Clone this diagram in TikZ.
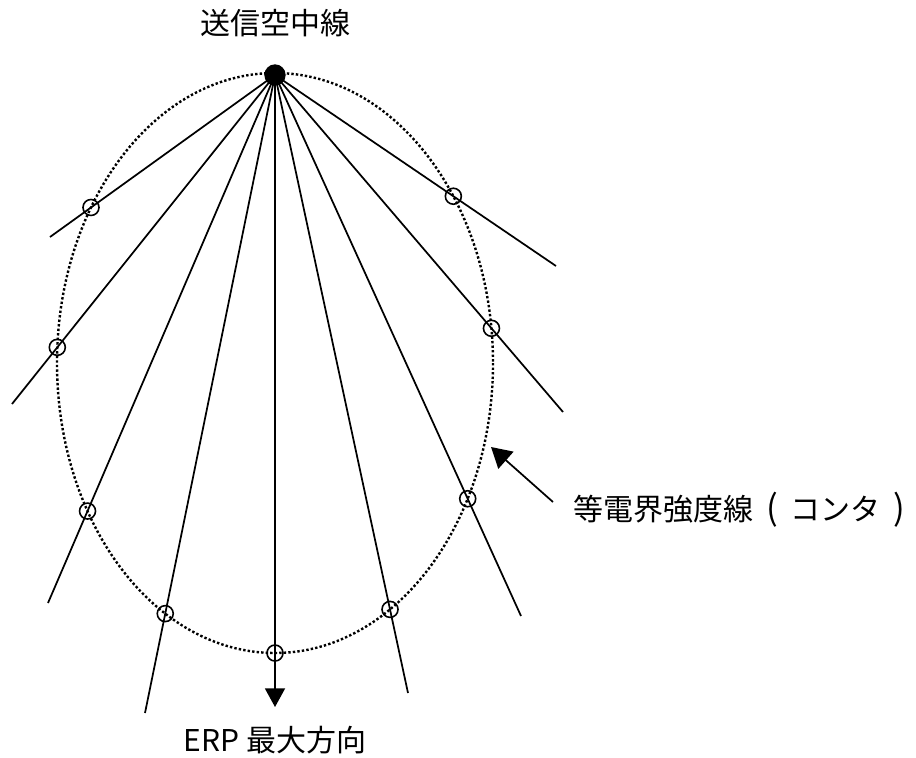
\documentclass[tikz,border=0pt]{standalone}
\usepackage{fontspec}
\newfontfamily\jp{Noto Sans CJK JP}
\usetikzlibrary{arrows.meta,intersections}
\newcommand{\cparen}[1]{\makebox[1.25em][c]{\fontsize{26}{26}\selectfont #1}}
\begin{document}
\begin{tikzpicture}[x=0.75pt,y=-0.75pt,
  ray/.style={line width=1.3pt},
  mark circ/.style={draw,line width=1.2pt,circle,minimum size=12pt,inner sep=0pt},
  lbl/.style={font=\jp\fontsize{22.5}{26}\selectfont,inner sep=0pt},
  tipA/.style={-{Triangle[length=14pt,width=15pt]}},
  tipB/.style={-{Triangle[length=15pt,width=17pt]}}]
\useasboundingbox (0,0) rectangle (916,757);
\path[name path=ell,draw,line width=1.8pt,dash pattern=on 1.8pt off 1.6pt] (275,363) ellipse [x radius=218,y radius=290];
\coordinate (A) at (275,75);
\foreach \i/\ex/\ey in {1/50/237,2/12/404,3/48/603,4/145/713,5/408/693,6/521/616,7/563/412,8/556/266}{
  \coordinate (e\i) at (\ex,\ey);
  \draw[ray,name path=l\i] (A) -- (e\i);
  \path[name intersections={of=ell and l\i,name=x\i,sort by=l\i,total=\t}]
    node[mark circ] (c\i) at (x\i-\t) {};
}
\coordinate (e0) at (275,707);
\draw[ray,tipA,name path=l0] (A) -- (e0);
\path[name intersections={of=ell and l0,name=x0,sort by=l0,total=\t}]
  node[mark circ] (c0) at (x0-\t) {};
\node[circle,fill=black,minimum size=16pt,inner sep=0pt] (ant) at (A) {};
\node[lbl] (t1) at (275,23) {送信空中線};
\node[lbl] (t2) at (275,740) {ERP 最大方向};
\node[lbl,anchor=west] (t3) at (573,510) {等電界強度線\cparen{(}コンタ\cparen{)}};
\coordinate (s) at (553,502);
\coordinate (te) at (491,447);
\draw[ray,tipB] (s) -- (te);
\end{tikzpicture}
\end{document}
